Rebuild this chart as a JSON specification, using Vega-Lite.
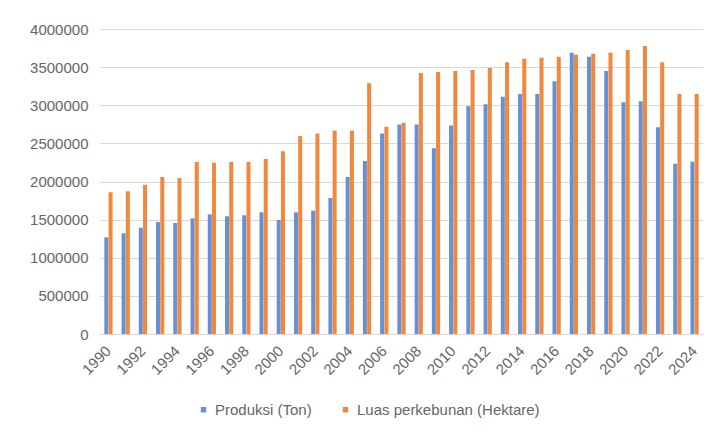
{
  "$schema": "https://vega.github.io/schema/vega-lite/v6.json",
  "width": 603,
  "height": 305,
  "autosize": {"type": "none"},
  "padding": {"left": 100, "top": 29, "right": 15, "bottom": 100},
  "background": "white",
  "data": {"values": [
    {"year":1990,"series":"Produksi (Ton)","value":1268000},{"year":1990,"series":"Luas perkebunan (Hektare)","value":1858000},
    {"year":1991,"series":"Produksi (Ton)","value":1320000},{"year":1991,"series":"Luas perkebunan (Hektare)","value":1871000},
    {"year":1992,"series":"Produksi (Ton)","value":1394000},{"year":1992,"series":"Luas perkebunan (Hektare)","value":1958000},
    {"year":1993,"series":"Produksi (Ton)","value":1469000},{"year":1993,"series":"Luas perkebunan (Hektare)","value":2059000},
    {"year":1994,"series":"Produksi (Ton)","value":1456000},{"year":1994,"series":"Luas perkebunan (Hektare)","value":2046000},
    {"year":1995,"series":"Produksi (Ton)","value":1517000},{"year":1995,"series":"Luas perkebunan (Hektare)","value":2256000},
    {"year":1996,"series":"Produksi (Ton)","value":1570000},{"year":1996,"series":"Luas perkebunan (Hektare)","value":2247000},
    {"year":1997,"series":"Produksi (Ton)","value":1543000},{"year":1997,"series":"Luas perkebunan (Hektare)","value":2256000},
    {"year":1998,"series":"Produksi (Ton)","value":1557000},{"year":1998,"series":"Luas perkebunan (Hektare)","value":2256000},
    {"year":1999,"series":"Produksi (Ton)","value":1596000},{"year":1999,"series":"Luas perkebunan (Hektare)","value":2295000},
    {"year":2000,"series":"Produksi (Ton)","value":1495000},{"year":2000,"series":"Luas perkebunan (Hektare)","value":2396000},
    {"year":2001,"series":"Produksi (Ton)","value":1596000},{"year":2001,"series":"Luas perkebunan (Hektare)","value":2597000},
    {"year":2002,"series":"Produksi (Ton)","value":1617000},{"year":2002,"series":"Luas perkebunan (Hektare)","value":2631000},
    {"year":2003,"series":"Produksi (Ton)","value":1784000},{"year":2003,"series":"Luas perkebunan (Hektare)","value":2670000},
    {"year":2004,"series":"Produksi (Ton)","value":2059000},{"year":2004,"series":"Luas perkebunan (Hektare)","value":2670000},
    {"year":2005,"series":"Produksi (Ton)","value":2269000},{"year":2005,"series":"Luas perkebunan (Hektare)","value":3288000},
    {"year":2006,"series":"Produksi (Ton)","value":2631000},{"year":2006,"series":"Luas perkebunan (Hektare)","value":2719000},
    {"year":2007,"series":"Produksi (Ton)","value":2749000},{"year":2007,"series":"Luas perkebunan (Hektare)","value":2771000},
    {"year":2008,"series":"Produksi (Ton)","value":2749000},{"year":2008,"series":"Luas perkebunan (Hektare)","value":3423000},
    {"year":2009,"series":"Produksi (Ton)","value":2435000},{"year":2009,"series":"Luas perkebunan (Hektare)","value":3436000},
    {"year":2010,"series":"Produksi (Ton)","value":2736000},{"year":2010,"series":"Luas perkebunan (Hektare)","value":3449000},
    {"year":2011,"series":"Produksi (Ton)","value":2986000},{"year":2011,"series":"Luas perkebunan (Hektare)","value":3462000},
    {"year":2012,"series":"Produksi (Ton)","value":3012000},{"year":2012,"series":"Luas perkebunan (Hektare)","value":3488000},
    {"year":2013,"series":"Produksi (Ton)","value":3112000},{"year":2013,"series":"Luas perkebunan (Hektare)","value":3563000},
    {"year":2014,"series":"Produksi (Ton)","value":3148000},{"year":2014,"series":"Luas perkebunan (Hektare)","value":3611000},
    {"year":2015,"series":"Produksi (Ton)","value":3148000},{"year":2015,"series":"Luas perkebunan (Hektare)","value":3624000},
    {"year":2016,"series":"Produksi (Ton)","value":3314000},{"year":2016,"series":"Luas perkebunan (Hektare)","value":3637000},
    {"year":2017,"series":"Produksi (Ton)","value":3689000},{"year":2017,"series":"Luas perkebunan (Hektare)","value":3663000},
    {"year":2018,"series":"Produksi (Ton)","value":3637000},{"year":2018,"series":"Luas perkebunan (Hektare)","value":3676000},
    {"year":2019,"series":"Produksi (Ton)","value":3449000},{"year":2019,"series":"Luas perkebunan (Hektare)","value":3689000},
    {"year":2020,"series":"Produksi (Ton)","value":3038000},{"year":2020,"series":"Luas perkebunan (Hektare)","value":3724000},
    {"year":2021,"series":"Produksi (Ton)","value":3051000},{"year":2021,"series":"Luas perkebunan (Hektare)","value":3777000},
    {"year":2022,"series":"Produksi (Ton)","value":2710000},{"year":2022,"series":"Luas perkebunan (Hektare)","value":3563000},
    {"year":2023,"series":"Produksi (Ton)","value":2233000},{"year":2023,"series":"Luas perkebunan (Hektare)","value":3148000},
    {"year":2024,"series":"Produksi (Ton)","value":2259000},{"year":2024,"series":"Luas perkebunan (Hektare)","value":3148000}
  ]},
  "mark": {"type": "bar"},
  "encoding": {
    "x": {
      "field": "year", "type": "ordinal",
      "scale": {"paddingInner": 0.52, "paddingOuter": 0.25},
      "axis": {
        "title": null,
        "values": [1990,1992,1994,1996,1998,2000,2002,2004,2006,2008,2010,2012,2014,2016,2018,2020,2022,2024],
        "labelAngle": -45,
        "labelAlign": "right",
        "labelBaseline": "middle",
        "ticks": false,
        "labelPadding": 14,
        "domainColor": "#d9d9d9",
        "labelColor": "#666666",
        "labelFontSize": 15,
        "labelFont": "Liberation Sans"
      }
    },
    "xOffset": {
      "field": "series", "type": "nominal",
      "sort": ["Produksi (Ton)", "Luas perkebunan (Hektare)"],
      "scale": {"paddingInner": 0.05}
    },
    "y": {
      "field": "value", "type": "quantitative",
      "scale": {"domain": [0, 4000000]},
      "axis": {
        "title": null,
        "values": [0,500000,1000000,1500000,2000000,2500000,3000000,3500000,4000000],
        "format": "d",
        "domain": false,
        "ticks": false,
        "gridColor": "#d9d9d9",
        "labelColor": "#666666",
        "labelFontSize": 15,
        "labelPadding": 12,
        "labelFont": "Liberation Sans"
      }
    },
    "color": {
      "field": "series", "type": "nominal",
      "sort": ["Produksi (Ton)", "Luas perkebunan (Hektare)"],
      "scale": {"domain": ["Produksi (Ton)", "Luas perkebunan (Hektare)"], "range": ["#6A90D4", "#F0893E"]},
      "legend": {
        "title": null,
        "orient": "none",
        "legendX": 96,
        "legendY": 373,
        "direction": "horizontal",
        "symbolType": "square",
        "symbolSize": 30,
        "symbolStrokeWidth": 0,
        "labelOffset": 4,
        "labelFontSize": 15,
        "labelLimit": 400,
        "labelColor": "#666666",
        "labelFont": "Liberation Sans",
        "columnPadding": 26
      }
    }
  },
  "config": {"view": {"stroke": null}}
}
